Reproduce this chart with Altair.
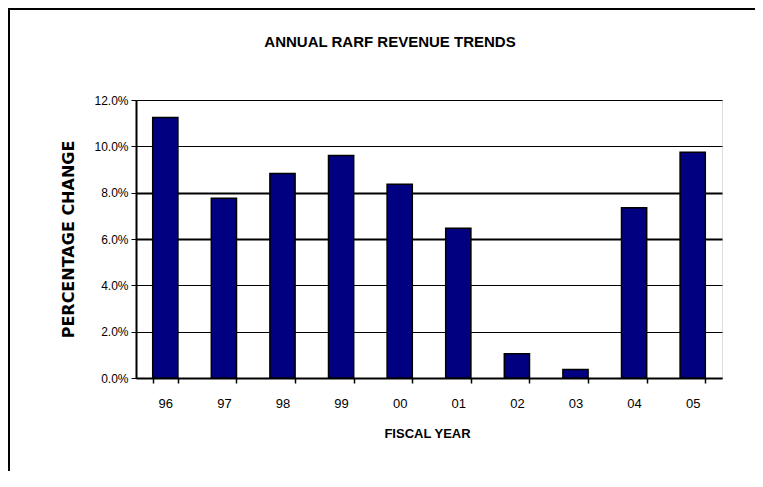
import altair as alt
import pandas as pd

years = ["96", "97", "98", "99", "00", "01", "02", "03", "04", "05"]
pct_change = [0.1124, 0.0776, 0.0883, 0.0960, 0.0836, 0.0646, 0.0105, 0.0037, 0.0735, 0.0974]

df = pd.DataFrame({"year": years, "pct": pct_change})

NARROW = "Liberation Sans Narrow, Arial Narrow, Liberation Sans, Arial"
BOLD = "Liberation Sans, Arial"
WIDE = "DejaVu Sans, Verdana, Liberation Sans"

bars = alt.Chart(df).mark_bar(
    color="#000080", stroke="#000000", strokeWidth=1.5
).encode(
    x=alt.X(
        "year:N",
        sort=years,
        scale=alt.Scale(paddingInner=0.57, paddingOuter=0.285),
        axis=alt.Axis(
            title="FISCAL YEAR",
            titleFont=BOLD,
            titleFontSize=13,
            titleFontWeight="bold",
            titleColor="#000000",
            titleX=291,
            titleY=55,
            titleBaseline="middle",
            labelAngle=0,
            labelFont=NARROW,
            labelFontSize=13,
            labelColor="#000000",
            labelPadding=14,
            tickBand="extent",
            tickColor="#000000",
            tickSize=5,
            tickWidth=1.5,
            domainColor="#000000",
            domainWidth=2,
            grid=False,
        ),
    ),
    y=alt.Y(
        "pct:Q",
        scale=alt.Scale(domain=[0, 0.12], nice=False),
        axis=alt.Axis(
            title="PERCENTAGE CHANGE",
            titleFont=WIDE,
            titleFontSize=16,
            titleFontWeight="bold",
            titleColor="#000000",
            titleX=-68,
            titleY=139,
            titleAngle=-90,
            titleAlign="center",
            titleBaseline="middle",
            format=".1%",
            values=[0, 0.02, 0.04, 0.06, 0.08, 0.10, 0.12],
            labelFont=NARROW,
            labelFontSize=12,
            labelColor="#000000",
            labelPadding=3,
            tickColor="#000000",
            tickSize=5,
            domainColor="#000000",
            domainWidth=2,
            grid=True,
            gridColor="#000000",
            gridWidth={"condition": {"test": "datum.value == 0.06 || datum.value == 0.08", "value": 2}, "value": 1},
        ),
    ),
)

frame_left = alt.Chart(df).mark_rule(color="#000000", strokeWidth=2).encode(
    x=alt.value(-127), y=alt.value(-92), y2=alt.value(400)
)
frame_top = alt.Chart(df).mark_rule(color="#000000", strokeWidth=2).encode(
    x=alt.value(-128), x2=alt.value(700), y=alt.value(-91)
)

chart = alt.layer(frame_left, frame_top, bars).properties(
    width=586,
    height=278,
    autosize=alt.AutoSizeParams(type="none"),
    padding={"left": 128, "top": 92, "right": 33, "bottom": 93},
    title=alt.TitleParams(
        "ANNUAL RARF REVENUE TRENDS",
        font=BOLD,
        fontSize=15,
        fontWeight="bold",
        color="#000000",
        anchor="middle",
        offset=0,
        dy=43,
        dx=-39,
    ),
).configure_view(
    stroke="#808080", strokeWidth=2
).configure(background="#ffffff")

chart.save("out.html", embed_options={"renderer": "svg", "actions": False})
